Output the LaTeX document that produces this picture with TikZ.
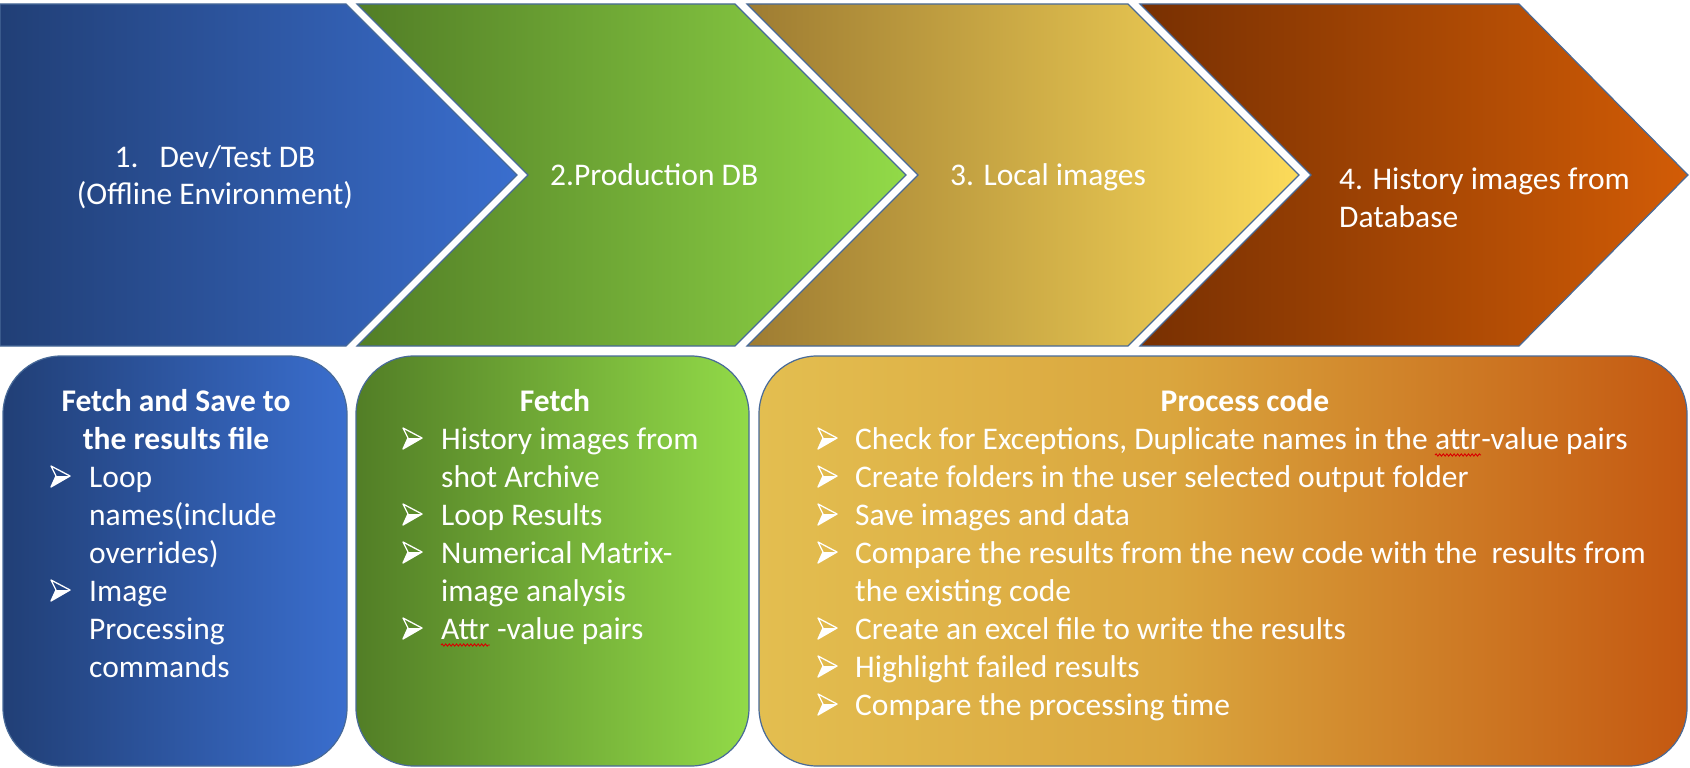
\documentclass[tikz,border=0pt]{standalone}
\usepackage{fontspec}
\setmainfont{Carlito}
\usetikzlibrary{decorations.pathmorphing}

% palette
\definecolor{edge}{RGB}{72,106,152}
\definecolor{blueA}{RGB}{33,63,118}
\definecolor{blueB}{RGB}{58,110,206}
\definecolor{greenA}{RGB}{82,126,38}
\definecolor{greenB}{RGB}{146,218,72}
\definecolor{goldA}{RGB}{158,124,50}
\definecolor{goldB}{RGB}{252,219,90}
\definecolor{rustA}{RGB}{120,48,2}
\definecolor{rustB}{RGB}{210,92,6}
\definecolor{procA}{RGB}{227,190,80}
\definecolor{procB}{RGB}{218,166,62}
\definecolor{procC}{RGB}{196,88,17}

% gold-to-rust fill of the wide card (stops between 25bp and 75bp span the path)
\pgfdeclarehorizontalshading{procfill}{100bp}{color(0bp)=(procA); color(25bp)=(procA); color(47bp)=(procB); color(75bp)=(procC); color(100bp)=(procC)}

\tikzset{
  x=1pt, y=-1pt,
  chev/.style={draw=edge, line width=1.2pt},
  card/.style={draw=edge, line width=1.2pt, rounded corners=58pt},
  head/.style={text=white, inner sep=0pt, anchor=base, font=\fontsize{31.5}{38}\selectfont},
  ttl/.style={text=white, inner sep=0pt, anchor=base, font=\bfseries\fontsize{31.5}{38}\selectfont},
  txt/.style={text=white, inner sep=0pt, anchor=base west, font=\fontsize{31.5}{38}\selectfont},
  spell/.style={draw=red!85!black, line width=0.9pt, decorate,
    decoration={snake, amplitude=1.1pt, segment length=3.6pt}},
  % top-lit arrowhead bullet: hollow upper half, solid lower half
  arrowbullet/.pic={
    \draw[white, line width=1.3pt, line join=round] (0,-10) -- (19,0) -- (0,11) -- (5,0) -- cycle;
    \fill[white] (5,0) -- (19,0) -- (0,11) -- cycle;
  },
}

\begin{document}
\begin{tikzpicture}
\useasboundingbox (0,0) rectangle (1690,768);

% ---- process chevrons ----
\path[chev, left color=blueA, right color=blueB]
  (0,4) -- (346,4) -- (517,175) -- (346,346) -- (0,346) -- cycle;
\path[chev, left color=greenA, right color=greenB]
  (357,4) -- (735,4) -- (906,175) -- (735,346) -- (357,346) -- (528,175) -- cycle;
\path[chev, left color=goldA, right color=goldB]
  (747,4) -- (1128,4) -- (1299,175) -- (1128,346) -- (747,346) -- (918,175) -- cycle;
\path[chev, left color=rustA, right color=rustB]
  (1140,4) -- (1519,4) -- (1688,175) -- (1519,346) -- (1140,346) -- (1311,175) -- cycle;

\node[head] (s1a) at (215,167) {1.\hspace{21pt}Dev/Test DB};
\node[head] (s1b) at (215,204) {(Offline Environment)};
\node[txt]  (s2)  at (550,185) {2.Production DB};
\node[txt]  (s3)  at (950,185) {3. Local images};
\node[txt]  (s4a) at (1339,189) {4. History images from};
\node[txt]  (s4b) at (1339,227) {Database};

% ---- detail cards ----
\path[card, left color=blueA, right color=blueB] (3,356) rectangle (347,766);
\path[card, left color=greenA, right color=greenB] (356,356) rectangle (749,766);
\path[card, shading=procfill, shading angle=0] (759,356) rectangle (1687,766);

% card 1
\node[ttl] (f1) at (176,411) {Fetch and Save to};
\node[ttl] (f2) at (176,449) {the results file};
\pic at (51,476) {arrowbullet};
\node[txt] (f3) at (89,487) {Loop};
\node[txt] (f4) at (89,525) {names(include};
\node[txt] (f5) at (89,563) {overrides)};
\pic at (51,590) {arrowbullet};
\node[txt] (f6) at (89,601) {Image};
\node[txt] (f7) at (89,639) {Processing};
\node[txt] (f8) at (89,677) {commands};

% card 2
\node[ttl] (g1) at (555,411) {Fetch};
\pic at (403,438) {arrowbullet};
\node[txt] (g2) at (441,449) {History images from};
\node[txt] (g3) at (441,487) {shot Archive};
\pic at (403,514) {arrowbullet};
\node[txt] (g4) at (441,525) {Loop Results};
\pic at (403,552) {arrowbullet};
\node[txt] (g5) at (441,563) {Numerical Matrix-};
\node[txt] (g6) at (441,601) {image analysis};
\pic at (403,628) {arrowbullet};
\node[txt] (g7) at (441,639) {Attr};
\node[txt] (g8) at (g7.base east) {\ -value pairs};
\draw[spell] ([yshift=-6pt]g7.base west) -- ([yshift=-6pt]g7.base east);

% card 3
\node[ttl] (p0) at (1245,411) {Process code};
\pic at (818,438) {arrowbullet};
\node[txt] (p1a) at (855,449) {Check for Exceptions, Duplicate names in the};
\node[txt] (p1b) at ([xshift=7pt]p1a.base east) {attr};
\node[txt] (p1c) at (p1b.base east) {-value pairs};
\draw[spell] ([yshift=-6pt]p1b.base west) -- ([yshift=-6pt]p1b.base east);
\pic at (818,476) {arrowbullet};
\node[txt] (p2) at (855,487) {Create folders in the user selected output folder};
\pic at (818,514) {arrowbullet};
\node[txt] (p3) at (855,525) {Save images and data};
\pic at (818,552) {arrowbullet};
\node[txt] (p4) at (855,563) {Compare the results from the new code with the\ \ results from};
\node[txt] (p5) at (855,601) {the existing code};
\pic at (818,628) {arrowbullet};
\node[txt] (p6) at (855,639) {Create an excel file to write the results};
\pic at (818,666) {arrowbullet};
\node[txt] (p7) at (855,677) {Highlight failed results};
\pic at (818,704) {arrowbullet};
\node[txt] (p8) at (855,715) {Compare the processing time};
\end{tikzpicture}
\end{document}
